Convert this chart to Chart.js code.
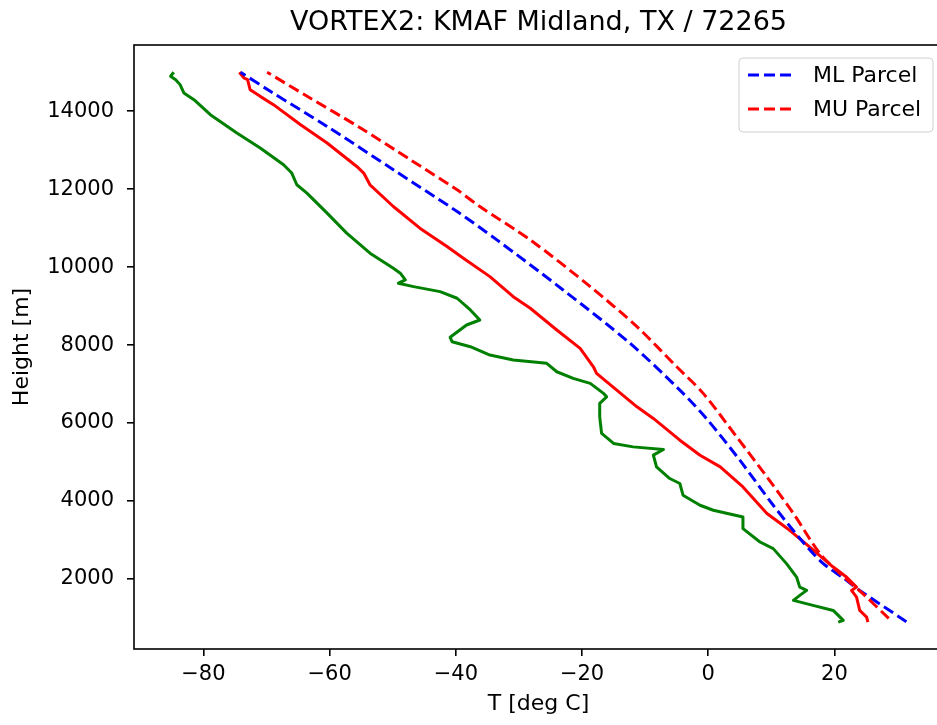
<!DOCTYPE html>
<html>
<head>
<meta charset="utf-8">
<title>VORTEX2 sounding</title>
<script src="https://cdn.jsdelivr.net/npm/chart.js@4.4.0/dist/chart.umd.min.js"></script>
<style>
  html, body { margin: 0; padding: 0; background: #fff; overflow: hidden; }
  #wrap { width: 950px; height: 725px; }
</style>
</head>
<body>
<div id="wrap"><canvas id="sounding" width="950" height="725"></canvas></div>
<script>
// sounding.js - VORTEX2 KMAF profile with parcel traces

const chartTitle = "VORTEX2: KMAF Midland, TX / 72265";

// Dewpoint profile (green)
const dewHeight = [890, 933, 1190, 1319, 1447, 1576, 1704, 1789, 2046, 2391, 2776, 2946, 3290, 3588, 3760, 3889,
  4146, 4447, 4575, 4873, 5174, 5320, 5387, 5475, 5732, 6158, 6503, 6672, 6760, 7017, 7145, 7315, 7531, 7615,
  7744, 7957, 8086, 8199, 8515, 8643, 8900, 9201, 9371, 9499, 9587, 9671, 9844, 9972, 10358, 10872, 11386,
  11900, 12113, 12414, 12627, 13056, 13442, 13912, 14297, 14470, 14683, 14811, 14900, 15000];
const dewTemp = [20.6, 21.4, 19.8, 16.6, 13.5, 14.5, 15.6, 14.5, 14.0, 12.4, 10.3, 8.2, 5.5, 5.5, 0.8, -1.3,
  -4.0, -4.5, -6.1, -8.2, -8.7, -7.1, -11.9, -15.0, -16.9, -17.2, -17.2, -16.1, -16.6, -18.7, -21.4, -24.0, -25.6, -30.9,
  -34.6, -37.7, -40.6, -40.9, -38.3, -36.2, -37.7, -39.8, -42.5, -46.7, -49.1, -48.0, -48.8, -49.9, -53.6, -57.3, -60.4,
  -63.6, -65.2, -66.0, -67.3, -71.0, -74.7, -78.9, -81.5, -83.1, -83.7, -84.4, -85.2, -84.7];

// Temperature profile (red)
const tempHeight = [890, 1018, 1190, 1532, 1704, 1789, 2046, 2303, 2817, 3246, 3676, 4359, 4873, 5174, 5559,
  6117, 6415, 6844, 7274, 7443, 7916, 8386, 8944, 9242, 9756, 10229, 10527, 11000, 11555, 12113, 12414, 12583,
  13185, 13655, 14169, 14382, 14554, 14811, 14855, 15000];
const tempTemp = [25.3, 25.1, 24.0, 23.5, 22.7, 23.5, 21.9, 19.8, 16.1, 12.9, 9.3, 5.5, 1.9, -1.3, -4.5,
  -8.7, -11.3, -14.5, -17.7, -18.2, -20.3, -24.0, -28.2, -30.9, -34.6, -38.8, -41.4, -45.7, -49.9, -53.6, -54.6, -55.7,
  -60.4, -64.6, -68.9, -71.0, -72.6, -73.0, -73.6, -74.3];

// Mixed-layer parcel (blue dashed)
const mlHeight = [900, 1704, 1987, 2424, 3041, 3889, 5045, 6117, 6844, 8045, 9414, 10699, 11427, 12498, 13611, 14511, 15000];
const mlTemp = [31.4, 24.0, 21.7, 18.0, 14.5, 10.3, 5.0, -0.3, -4.5, -12.4, -23.0, -33.5, -39.8, -49.9, -60.4, -69.4, -74.1];

// Most-unstable parcel (red dashed)
const muHeight = [985, 1620, 2134, 2648, 3676, 4616, 5644, 6760, 7443, 8471, 9499, 10699, 11555, 11984, 12755, 13570, 14341, 15000];
const muTemp = [28.6, 24.5, 20.9, 17.7, 13.5, 9.3, 4.5, -0.8, -5.0, -11.3, -18.7, -28.2, -36.2, -39.8, -47.2, -55.1, -63.1, -69.9];

// Tick values
const xTicks = [-80, -60, -40, -20, 0, 20];
const yTicks = [2000, 4000, 6000, 8000, 10000, 12000, 14000];

function toPoints(temps, heights) {
  return temps.map((t, i) => ({ x: t, y: heights[i] }));
}

const FONT = "'DejaVu Sans', sans-serif";
Chart.defaults.font.family = FONT;
Chart.defaults.color = "#000";

// Frame, title and legend drawn matplotlib-style
const framePlugin = {
  id: "frame",
  afterDatasetsDraw(chart) {
    const { ctx, chartArea: a } = chart;
    ctx.save();
    ctx.strokeStyle = "#000";
    ctx.lineWidth = 1.6;
    ctx.strokeRect(a.left, a.top, a.right - a.left, a.bottom - a.top);

    ctx.fillStyle = "#000";
    ctx.font = "27px " + FONT;
    ctx.textAlign = "center";
    ctx.textBaseline = "alphabetic";
    ctx.fillText(chartTitle, (a.left + a.right) / 2, a.top - 15);

    // legend box (only parcel traces)
    const entries = chart.data.datasets.filter((d) => d.inLegend);
    const w = 194, h = 74;
    const x0 = a.right - 10 - w, y0 = a.top + 13;
    ctx.beginPath();
    ctx.roundRect(x0, y0, w, h, 4);
    ctx.fillStyle = "rgba(255,255,255,0.8)";
    ctx.fill();
    ctx.strokeStyle = "#d0d0d0";
    ctx.lineWidth = 1;
    ctx.stroke();
    ctx.font = "22px " + FONT;
    ctx.textAlign = "left";
    ctx.textBaseline = "middle";
    entries.forEach((d, i) => {
      const y = y0 + 17 + i * 34;
      ctx.beginPath();
      ctx.setLineDash(d.borderDash);
      ctx.strokeStyle = d.borderColor;
      ctx.lineWidth = d.borderWidth;
      ctx.moveTo(x0 + 9, y);
      ctx.lineTo(x0 + 56, y);
      ctx.stroke();
      ctx.setLineDash([]);
      ctx.fillStyle = "#000";
      ctx.fillText(d.label, x0 + 74, y + 1);
    });
    ctx.restore();
  },
};

const ctx = document.getElementById("sounding").getContext("2d");

new Chart(ctx, {
  type: "scatter",
  data: {
    datasets: [
      {
        label: "ML Parcel",
        data: toPoints(mlTemp, mlHeight),
        borderColor: "#0000ff",
        borderDash: [11, 5],
        borderWidth: 3,
        tension: 0.3,
        inLegend: true,
        order: 2,
      },
      {
        label: "MU Parcel",
        data: toPoints(muTemp, muHeight),
        borderColor: "#ff0000",
        borderDash: [11, 5],
        borderWidth: 3,
        tension: 0.3,
        inLegend: true,
        order: 1,
      },
      {
        label: "T",
        data: toPoints(tempTemp, tempHeight),
        borderColor: "#ff0000",
        borderWidth: 3,
        borderJoinStyle: "round",
        order: 3,
      },
      {
        label: "Td",
        data: toPoints(dewTemp, dewHeight),
        borderColor: "#008000",
        borderWidth: 3,
        borderJoinStyle: "round",
        order: 4,
      },
    ].map((d) => Object.assign({ showLine: true, pointRadius: 0, fill: false }, d)),
  },
  options: {
    responsive: false,
    animation: false,
    devicePixelRatio: 1,
    layout: { padding: { top: 45, right: 7, bottom: 0, left: 0 } },
    plugins: {
      legend: { display: false },
      tooltip: { enabled: false },
    },
    scales: {
      x: {
        type: "linear",
        min: -91.0,
        max: 37.2,
        afterFit: (scale) => { scale.height = 76; },
        afterBuildTicks: (scale) => { scale.ticks = xTicks.map((v) => ({ value: v })); },
        border: { display: false },
        grid: { drawOnChartArea: false, drawTicks: true, tickLength: 7, color: "#000", lineWidth: 1.6 },
        ticks: {
          padding: 6,
          maxRotation: 0,
          autoSkip: false,
          font: { size: 21 },
          color: "#000",
          callback: (v) => String(v).replace("-", "\u2212"),
        },
        title: { display: true, text: "T [deg C]", font: { size: 22 }, color: "#000", padding: { top: 0, bottom: 8 } },
      },
      y: {
        type: "linear",
        min: 200,
        max: 15700,
        afterFit: (scale) => { scale.width = 134; },
        afterBuildTicks: (scale) => { scale.ticks = yTicks.map((v) => ({ value: v })); },
        border: { display: false },
        grid: { drawOnChartArea: false, drawTicks: true, tickLength: 7, color: "#000", lineWidth: 1.6 },
        ticks: {
          padding: 13,
          autoSkip: false,
          font: { size: 21 },
          color: "#000",
          callback: (v) => String(v),
        },
        title: { display: true, text: "Height [m]", font: { size: 22 }, color: "#000", padding: { top: 9, bottom: 0 } },
      },
    },
  },
  plugins: [framePlugin],
});
</script>
</body>
</html>
